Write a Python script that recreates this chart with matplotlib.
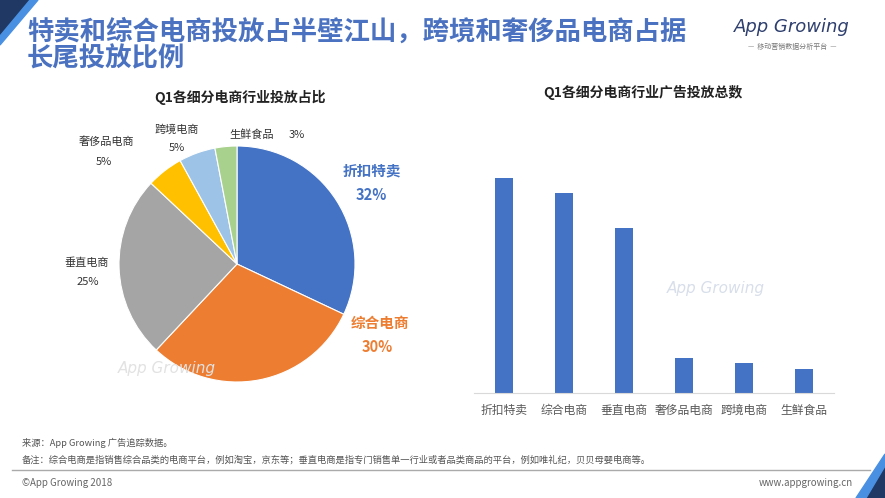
import matplotlib
matplotlib.use("Agg")
import matplotlib.pyplot as plt
from matplotlib.patches import Polygon
from matplotlib.lines import Line2D

plt.rcParams['font.family'] = ['Noto Sans CJK SC', 'DejaVu Sans']

# ---- data ----
categories = ['折扣特卖', '综合电商', '垂直电商', '奢侈品电商', '跨境电商', '生鲜食品']
pie_share = [32, 30, 25, 5, 5, 3]
bar_values = [215, 200, 165, 35, 30, 24]   # relative ad counts
pie_colors = ['#4472C4', '#ED7D31', '#A5A5A5', '#FFC000', '#9DC3E6', '#A9D18E']
bar_color = '#4472C4'

W, H = 885, 498
fig = plt.figure(figsize=(W / 100, H / 100), dpi=100)
fig.patch.set_facecolor('white')


def fx(x):
    return x / W


def fy(y):
    return 1 - y / H


# ---- corner decorations ----
fig.patches.append(Polygon([(fx(0), fy(0)), (fx(30), fy(0)), (fx(0), fy(36))],
                           closed=True, transform=fig.transFigure, color='#1F3864', zorder=1))
fig.patches.append(Polygon([(fx(30), fy(0)), (fx(38), fy(0)), (fx(0), fy(45)), (fx(0), fy(36))],
                           closed=True, transform=fig.transFigure, color='#4A90E2', zorder=1))
fig.patches.append(Polygon([(fx(885), fy(498)), (fx(866), fy(498)), (fx(885), fy(466))],
                           closed=True, transform=fig.transFigure, color='#1F3864', zorder=1))
fig.patches.append(Polygon([(fx(866), fy(498)), (fx(856), fy(498)), (fx(885), fy(454)), (fx(885), fy(466))],
                           closed=True, transform=fig.transFigure, color='#4A90E2', zorder=1))

# ---- headline ----
title_color = '#4A72C0'
fig.text(fx(27), fy(32), '特卖和综合电商投放占半壁江山，跨境和奢侈品电商占据',
         fontsize=19, fontweight='bold', color=title_color, va='center', ha='left')
fig.text(fx(27), fy(59), '长尾投放比例',
         fontsize=19, fontweight='bold', color=title_color, va='center', ha='left')

# logo
fig.text(fx(792), fy(27), 'App Growing', fontsize=13, style='italic', color='#2E3F6E',
         ha='center', va='center', family=['DejaVu Sans'])
fig.text(fx(792), fy(47), '—  移动营销数据分析平台  —', fontsize=5, color='#777777',
         ha='center', va='center')

# ---- pie chart ----
cx, cy, r = 237, 264, 118
ax1 = fig.add_axes([fx(cx - r), fy(cy + r), 2 * r / W, 2 * r / H])
ax1.pie(pie_share, colors=pie_colors, startangle=90, counterclock=False,
        wedgeprops=dict(edgecolor='white', linewidth=0.8))
ax1.set_xlim(-1, 1)
ax1.set_ylim(-1, 1)
ax1.set_aspect('auto')
ax1.axis('off')

fig.text(fx(240), fy(97), 'Q1各细分电商行业投放占比', fontsize=10, fontweight='bold',
         color='#222222', ha='center', va='center')

# pie labels
fig.text(fx(372), fy(170), categories[0], fontsize=10.5, fontweight='bold', color='#4472C4', ha='center', va='center')
fig.text(fx(371), fy(195), f'{pie_share[0]}%', fontsize=10.5, fontweight='bold', color='#4472C4', ha='center', va='center')
fig.text(fx(380), fy(323), categories[1], fontsize=10.5, fontweight='bold', color='#ED7D31', ha='center', va='center')
fig.text(fx(377), fy(347), f'{pie_share[1]}%', fontsize=10.5, fontweight='bold', color='#ED7D31', ha='center', va='center')
small = dict(fontsize=8, color='#333333', ha='center', va='center')
fig.text(fx(87), fy(263), categories[2], **small)
fig.text(fx(88), fy(282), f'{pie_share[2]}%', **small)
fig.text(fx(106), fy(142), categories[3], **small)
fig.text(fx(104), fy(162), f'{pie_share[3]}%', **small)
fig.text(fx(177), fy(130), categories[4], **small)
fig.text(fx(177), fy(148), f'{pie_share[4]}%', **small)
fig.text(fx(252), fy(135), categories[5], **small)
fig.text(fx(297), fy(135), f'{pie_share[5]}%', **small)

# watermark
fig.text(fx(167), fy(369), 'App Growing', fontsize=11, style='italic', color='#E2E2E2',
         ha='center', va='center', family=['DejaVu Sans'])

# ---- bar chart ----
base_y, top_y = 393, 143
ax2 = fig.add_axes([fx(474), fy(base_y), 360 / W, (base_y - top_y) / H])
ax2.bar(range(len(categories)), bar_values, width=0.3, color=bar_color)
ax2.set_xlim(-0.5, 5.5)
ax2.set_ylim(0, 250)
ax2.set_xticks(range(len(categories)))
ax2.set_xticklabels(categories, fontsize=8.5, color='#595959')
ax2.tick_params(axis='x', length=0, pad=8)
ax2.set_yticks([])
for s in ['left', 'right', 'top']:
    ax2.spines[s].set_visible(False)
ax2.spines['bottom'].set_color('#D9D9D9')
ax2.patch.set_alpha(0)

fig.text(fx(643), fy(93), 'Q1各细分电商行业广告投放总数', fontsize=10, fontweight='bold',
         color='#222222', ha='center', va='center')
fig.text(fx(716), fy(288), 'App Growing', fontsize=11, style='italic', color='#D8DFEA',
         ha='center', va='center', family=['DejaVu Sans'])

# ---- footer ----
foot = dict(fontsize=6.7, color='#555555', ha='left', va='center')
fig.text(fx(22), fy(443), '来源：App Growing 广告追踪数据。', **foot)
fig.text(fx(22), fy(460), '备注：综合电商是指销售综合品类的电商平台，例如淘宝，京东等；垂直电商是指专门销售单一行业或者品类商品的平台，例如唯礼纪，贝贝母婴电商等。', **foot)
fig.lines.append(Line2D([fx(12), fx(870)], [fy(470), fy(470)], transform=fig.transFigure,
                        color='#AAAAAA', linewidth=1))
fig.text(fx(22), fy(483), '©App Growing 2018', fontsize=7, color='#666666', ha='left', va='center')
fig.text(fx(853), fy(483), 'www.appgrowing.cn', fontsize=7, color='#666666', ha='right', va='center')

fig.savefig('out.png', dpi=100)
